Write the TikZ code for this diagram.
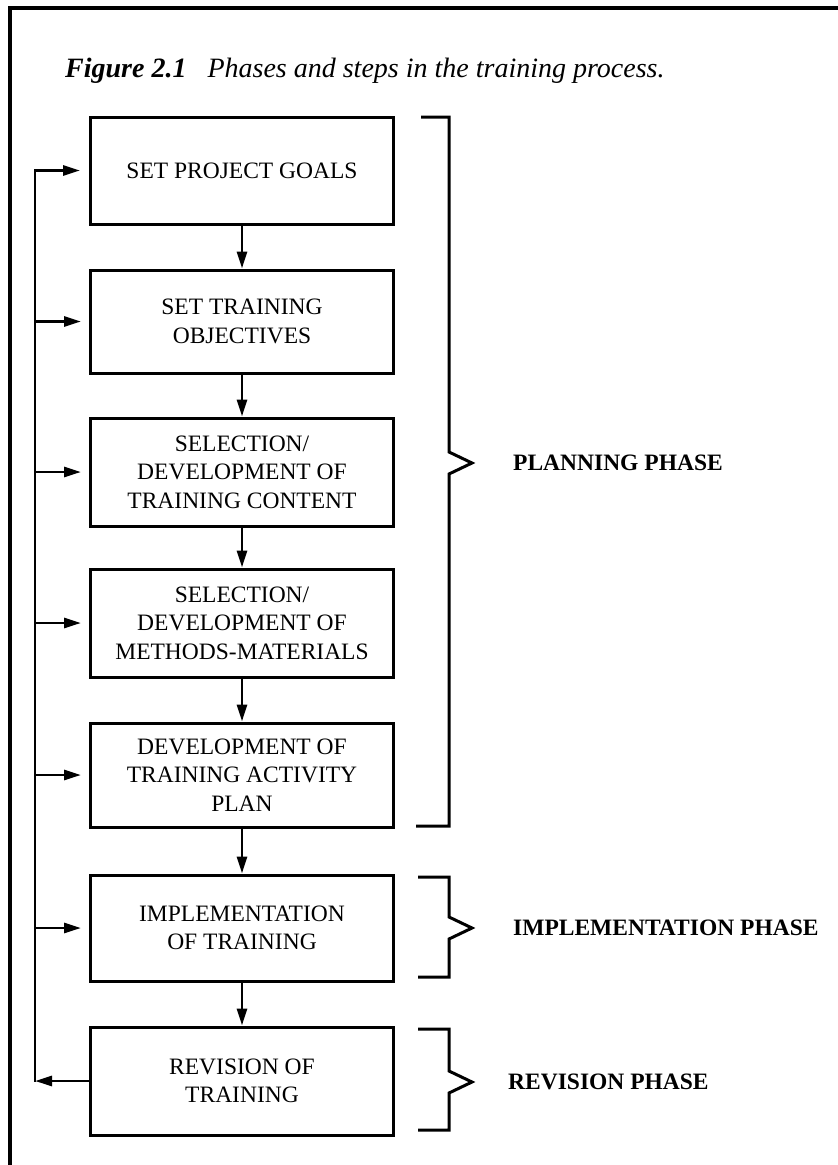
\documentclass[tikz,border=0pt]{standalone}
\usepackage{fontspec}
\setmainfont{Liberation Serif}
\usetikzlibrary{arrows.meta}
\begin{document}
\begin{tikzpicture}[x=1pt,y=-1pt,
  stepbox/.style={draw, line width=3pt, minimum width=303pt, align=center, inner sep=2pt,
    font=\fontsize{23.5}{28.5}\selectfont},
  conn/.style={line width=2.8pt},
  arr/.style={line width=2.8pt, -{Triangle[length=17pt,width=10pt]}},
  brk/.style={line width=3pt, line join=miter},
  phase/.style={anchor=west, inner sep=0pt, font=\fontsize{23.5}{28.5}\selectfont\bfseries},
  frame/.style={line width=3.5pt}]
\useasboundingbox (0,0) rectangle (838,1165);
\fill[white] (0,0) rectangle (838,1165);
% outer frame (left and top edges visible)
\draw[frame] (10,1170) -- (10,8) -- (845,8);
% title
\node[anchor=base west, inner sep=0pt, font=\fontsize{28}{32}\selectfont\itshape] (title) at (65,77)
  {{\bfseries Figure 2.1}\hspace{21pt}Phases and steps in the training process.};
% boxes
\node[stepbox, minimum height=107pt] (b1) at (242,170.5) {SET PROJECT GOALS};
\node[stepbox, minimum height=103pt] (b2) at (242,321.5) {SET TRAINING\\OBJECTIVES};
\node[stepbox, minimum height=108pt] (b3) at (242,472) {SELECTION/\\DEVELOPMENT OF\\TRAINING CONTENT};
\node[stepbox, minimum height=108pt] (b4) at (242,623) {SELECTION/\\DEVELOPMENT OF\\METHODS-MATERIALS};
\node[stepbox, minimum height=104pt] (b5) at (242,775) {DEVELOPMENT OF\\TRAINING ACTIVITY\\PLAN};
\node[stepbox, minimum height=106pt] (b6) at (242,928) {IMPLEMENTATION\\OF TRAINING};
\node[stepbox, minimum height=108pt] (b7) at (242,1081) {REVISION OF\\TRAINING};
% downward arrows
\draw[arr] (b1.south) -- (b2.north);
\draw[arr] (b2.south) -- (b3.north);
\draw[arr] (b3.south) -- (b4.north);
\draw[arr] (b4.south) -- (b5.north);
\draw[arr] (b5.south) -- (b6.north);
\draw[arr] (b6.south) -- (b7.north);
% feedback loop
\coordinate (fb) at (35,600);
\coordinate (fbtop) at (b1.west -| fb);
\coordinate (fbbot) at (b7.west -| fb);
\draw[conn, line cap=rect] (fbbot) -- (fbtop);
\draw[arr] (b7.west) -- (fbbot);
\draw[arr, shorten >=9pt] (fbtop) -- (b1.west);
\draw[arr, shorten >=8pt] (b2.west -| fb) -- (b2.west);
\draw[arr, shorten >=8pt] (b3.west -| fb) -- (b3.west);
\draw[arr, shorten >=8pt] (b4.west -| fb) -- (b4.west);
\draw[arr, shorten >=8pt] (b5.west -| fb) -- (b5.west);
\draw[arr, shorten >=8pt] (b6.west -| fb) -- (b6.west);
% brackets
\draw[brk] (421,117) -- (449,117) -- (449,452) -- (472,463) -- (449,474) -- (449,826) -- (416,826);
\draw[brk] (418,877) -- (449,877) -- (449,917) -- (472,928) -- (449,939) -- (449,977) -- (418,977);
\draw[brk] (418,1029) -- (449,1029) -- (449,1071) -- (472,1082) -- (449,1093) -- (449,1130) -- (418,1130);
% phase labels
\node[phase] (p1) at (513,463) {PLANNING PHASE};
\node[phase] (p2) at (513,928) {IMPLEMENTATION PHASE};
\node[phase] (p3) at (508,1082) {REVISION PHASE};
\end{tikzpicture}
\end{document}
